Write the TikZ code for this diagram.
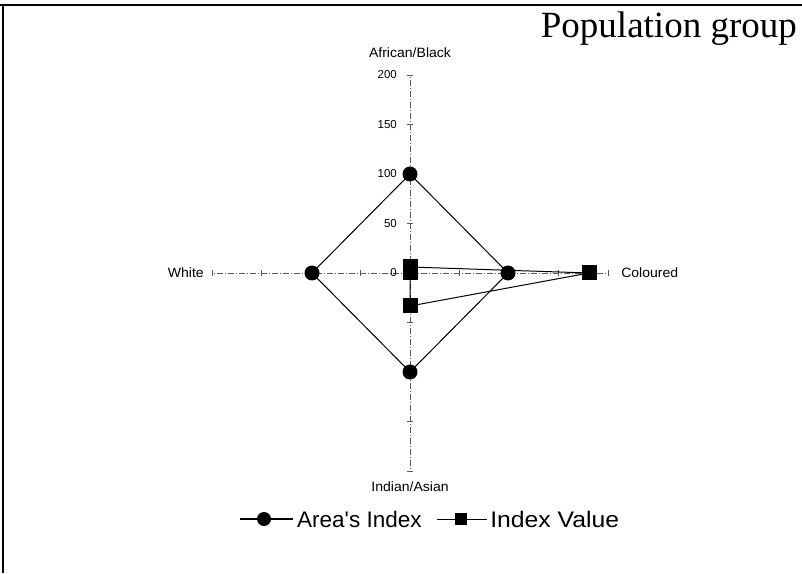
\documentclass[tikz,border=0pt]{standalone}
\usepackage{fontspec}
\setmainfont{Liberation Serif}
\newfontfamily\chartfont{Liberation Sans}
\usetikzlibrary{positioning,calc}
\definecolor{AxisGray}{RGB}{90,90,90}

\begin{document}
\begin{tikzpicture}[x=1pt, y=1pt,
    axis/.style={AxisGray, thin, dash pattern=on 6pt off 2pt on 1pt off 2pt},
    tickmark/.style={AxisGray, thin},
    ticklabel/.style={font=\chartfont\fontsize{11.5}{13}\selectfont, anchor=east, inner sep=1pt},
    axislabel/.style={font=\chartfont\fontsize{13.5}{15}\selectfont, inner sep=1pt, xscale=1.04},
    dot/.style={circle, fill=black, minimum size=15pt, inner sep=0pt},
    sq/.style={rectangle, fill=black, minimum size=15pt, inner sep=0pt},
    series/.style={black, line width=1pt},
    legendtext/.style={font=\chartfont\fontsize{22.5}{26}\selectfont, anchor=west, inner sep=1pt},
]
\useasboundingbox (0,0) rectangle (802,573);

% frame
\draw[line width=2pt] (0,568) -- (802,568);
\draw[line width=2pt] (3,568) -- (3,0);

% title
\node[anchor=base east, font=\fontsize{37}{40}\selectfont, inner sep=0pt] (title) at (797,535) {Population group};

% axes
\coordinate (c) at (410,300);
\foreach \ang/\nm in {90/up, 0/right, -90/down, 180/left} {
    \coordinate (\nm) at ($(c)+(\ang:198)$);
    \draw[axis] (c) -- (\nm);
    \foreach \r in {49.5, 99, 148.5, 198}
        \draw[tickmark] ($(c)+(\ang:\r)+(\ang+90:3)$) -- ($(c)+(\ang:\r)+(\ang-90:3)$);
}
\foreach \v in {0, 50, 100, 150, 200}
    \node[ticklabel] at (398, 300+0.99*\v) {\v};

\node[axislabel, above=16pt of up] (lblup) {African/Black};
\node[axislabel, below=10pt of down] (lbldown) {Indian/Asian};
\node[axislabel, anchor=east] (lblleft) at (205,300) {White};
\node[axislabel, anchor=west] (lblright) at (620,300) {Coloured};

% area's index
\node[dot] (a1) at ($(c)+(90:99)$) {};
\node[dot] (a2) at ($(c)+(0:98)$) {};
\node[dot] (a3) at ($(c)+(-90:99)$) {};
\node[dot] (a4) at ($(c)+(180:98)$) {};
\draw[series] (a1.center) -- (a2.center) -- (a3.center) -- (a4.center) -- cycle;

% index value
\node[sq] (v1) at ($(c)+(90:6)$) {};
\node[sq] (v2) at ($(c)+(0:179)$) {};
\node[sq] (v3) at ($(c)+(-90:33)$) {};
\node[sq] (v4) at ($(c)+(180:0)$) {};
\draw[series] (v1.center) -- (v2.center) -- (v3.center) -- (v4.center) -- cycle;

% legend
\coordinate (l1a) at (240,54);
\coordinate (l1b) at (293,54);
\draw[series, line width=1.5pt] (l1a) -- (l1b);
\node[dot, minimum size=14pt] (legdot) at (264,54) {};
\node[legendtext] (legarea) at (296,54) {Area's Index};
\coordinate (l2a) at (437,54);
\coordinate (l2b) at (487,54);
\draw[series] (l2a) -- (l2b);
\node[sq, minimum size=12pt] (legsq) at (461,54) {};
\node[legendtext, xscale=1.1] (legvalue) at (489,54) {Index Value};
\end{tikzpicture}
\end{document}
